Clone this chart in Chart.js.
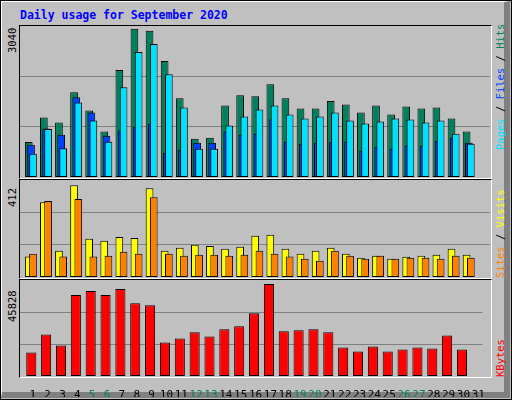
<!DOCTYPE html>
<html><head><meta charset="utf-8">
<script src="https://cdn.jsdelivr.net/npm/chart.js@4"></script>
<style>
body{margin:0;width:512px;height:400px;overflow:hidden;background:#c0c0c0;position:relative;font-family:"DejaVu Sans Mono",monospace}
#frame{position:absolute;left:0;top:0;width:510px;height:398px;border:1px solid #000;box-sizing:content-box}
#inner{position:absolute;left:1px;top:1px;width:502px;height:390px;border-left:1px solid #fff;border-top:1px solid #fff;border-right:6px solid #808080;border-bottom:6px solid #808080}
.panel{position:absolute;left:19px;width:471px;border-top:1px solid #000;border-left:1px solid #000;border-right:1px solid #fff;border-bottom:1px solid #fff}
.cv{position:absolute}
.rot{position:absolute;transform-origin:0 0;transform:rotate(-90deg);white-space:nowrap;font-size:10.5px}
#title{position:absolute;left:20px;top:8px;color:#0000ff;font-weight:bold;font-size:11.5px}
</style></head><body>
<div id="frame"></div><div id="inner"></div>
<div id="title">Daily usage for September 2020</div>
<div class="panel" style="top:25px;height:152px"></div>
<div class="panel" style="top:179px;height:98px"></div>
<div class="panel" style="top:279px;height:97px"></div>
<div class="rot" style="left:6px;top:53px">3040</div>
<div class="rot" style="left:6px;top:207px">412</div>
<div class="rot" style="left:6px;top:322px">45828</div>
<div class="rot" style="left:494px;top:150px"><span style="color:#00e0ff">Pages</span> / <span style="color:#0040ff">Files</span> / <span style="color:#00805c">Hits</span></div>
<div class="rot" style="left:494px;top:278px"><span style="color:#ff8000">Sites</span> / <span style="color:#ffff00">Visits</span></div>
<div class="rot" style="left:494px;top:377px;color:#ff0000">KBytes</div>
<div class="cv" style="left:20px;top:26px;width:470px;height:151px"><canvas id="c1"></canvas></div>
<div class="cv" style="left:20px;top:180px;width:470px;height:97px"><canvas id="c2"></canvas></div>
<div class="cv" style="left:20px;top:280px;width:470px;height:117px"><canvas id="c3"></canvas></div>
<script>
const days=Array.from({length:31},(_,i)=>i+1);
const hits=[705,1197,1096,1705,1339,915,2152,2985,2944,2335,1583,771,791,1441,1644,1624,1868,1583,1380,1380,1532,1461,1299,1441,1259,1421,1380,1400,1177,915,0];
const files=[467,964,578,1502,1137,710,1806,2517,2680,2071,1400,568,568,1035,1218,1360,1441,1259,1177,1218,1299,1137,1076,1117,1177,1157,1096,1137,873,670,0];
const pages=[650,975,853,1604,1299,832,934,1015,1076,487,548,690,690,914,853,873,1157,710,670,690,710,710,528,609,568,629,629,731,792,690,0];
const visits=[87,318,111,390,162,154,170,166,377,111,124,137,132,120,128,175,179,120,99,111,124,99,82,90,77,86,90,94,120,94,0];
const sites=[99,323,87,331,87,90,107,99,339,99,90,94,94,90,94,111,99,87,77,69,111,90,77,90,77,82,82,77,90,82,0];
const kbytes=[11216,19870,14580,38620,40540,38620,41500,34770,33810,16020,17940,20830,18900,22270,23710,29960,43900,21310,21790,22270,20830,13620,11700,14100,11700,12660,13620,13140,19390,12660,0];
const weekends=[5,6,12,13,19,20,26,27];
const XMIN=0.14,XMAX=31.27;
function hx(){return {type:'linear',min:XMIN,max:XMAX,offset:false,display:false};}
function yax(max){return {min:0,max:max,ticks:{display:false},border:{display:false},
 grid:{color:'#808080',lineWidth:1,drawTicks:false},
 afterBuildTicks:s=>{s.ticks=[{value:max/3},{value:2*max/3}];},afterFit:s=>{s.width=0;}};}
function ds(vals,off,color,axis,order,bp){return {data:vals.map((v,i)=>({x:days[i]+off,y:v})),backgroundColor:color,borderColor:'#000',borderWidth:1,borderSkipped:false,xAxisID:axis,order:order,grouped:false,categoryPercentage:1,barPercentage:bp};}
const base={responsive:true,maintainAspectRatio:false,animation:false,devicePixelRatio:1,
 layout:{padding:0},plugins:{legend:{display:false},tooltip:{enabled:false}}};
new Chart(c1,{type:'bar',data:{datasets:[ds(hits,-0.28,'#00805c','xa',3,0.51),ds(pages,-0.13,'#0040ff','xb',2,0.51),ds(files,0,'#00e0ff','xc',1,0.51)]},
 options:{...base,scales:{xa:hx(),xb:hx(),xc:hx(),y:yax(3040)}}});
new Chart(c2,{type:'bar',data:{datasets:[ds(visits,-0.28,'#ffff00','xa',2,0.51),ds(sites,0,'#ff8000','xb',1,0.51)]},
 options:{...base,scales:{xa:hx(),xb:hx(),y:yax(412)}}});
new Chart(c3,{type:'bar',data:{datasets:[ds(kbytes,-0.1,'#ff0000','xa',1,0.68)]},
 options:{...base,scales:{xa:hx(),
  x:{type:'linear',position:'bottom',min:XMIN,max:XMAX,offset:false,grid:{display:false},border:{display:false},
   afterBuildTicks:s=>{s.ticks=days.map(d=>({value:d}));},
   afterFit:s=>{s.height=21;},
   ticks:{autoSkip:false,maxRotation:0,padding:5,font:{family:'DejaVu Sans Mono',size:11},
    color:c=>weekends.includes(c.tick.value)?'#00805c':'#000',callback:v=>String(v)}},
  y:yax(45828)}}});
</script></body></html>
